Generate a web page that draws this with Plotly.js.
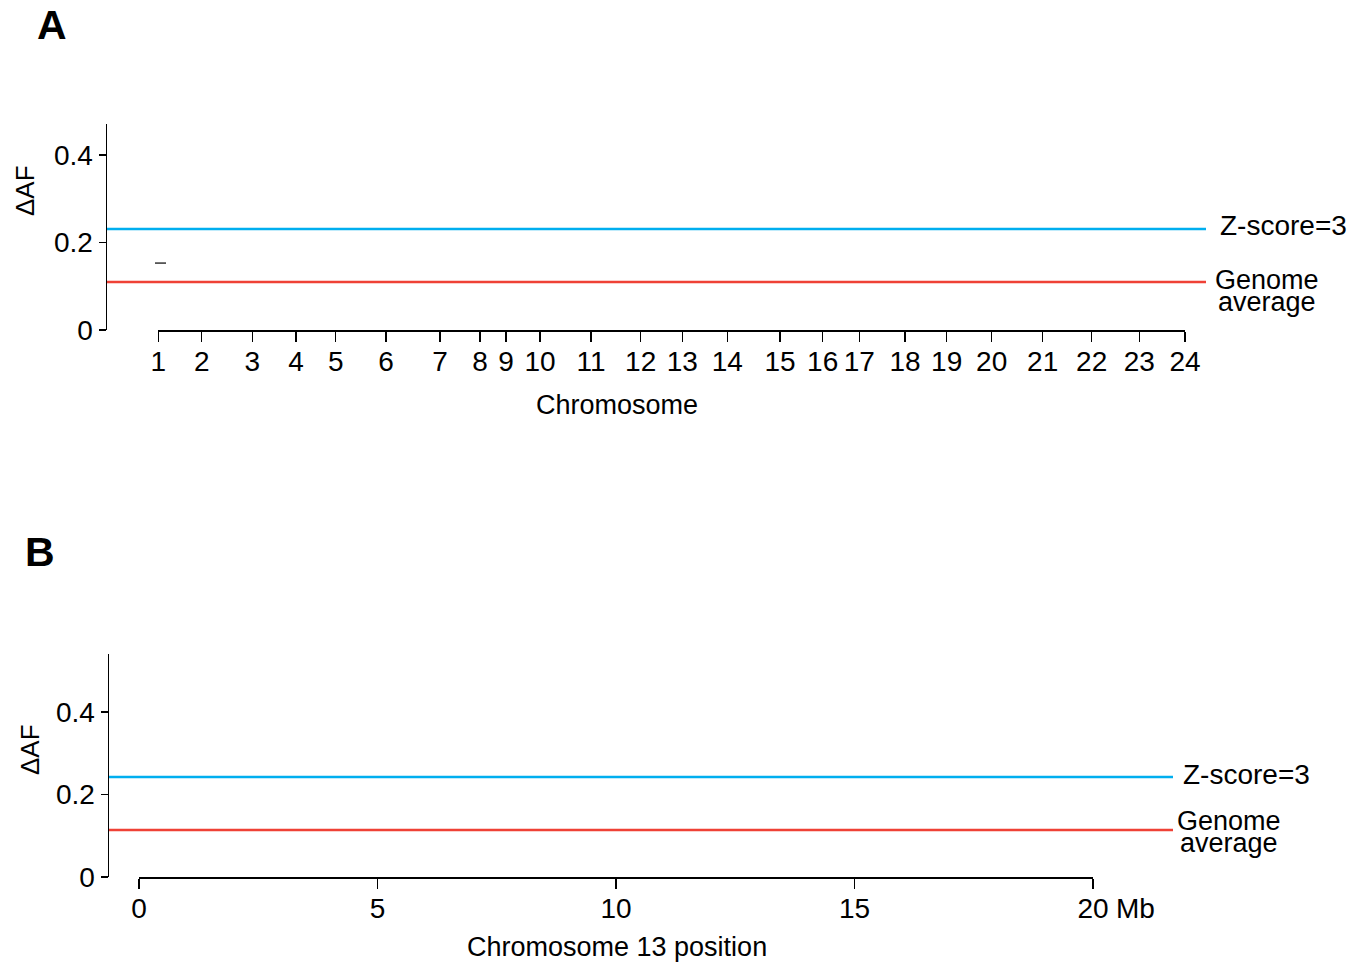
<!DOCTYPE html>
<html>
<head>
<meta charset="utf-8">
<script src="https://cdn.plot.ly/plotly-3.0.1.min.js"></script>
<style>html,body{margin:0;padding:0;background:#fff;}#chart{width:1362px;height:962px;}</style>
</head>
<body>
<div id="chart"></div>
<script>
// ---- Data ----
var chromLabels = ['1','2','3','4','5','6','7','8','9','10','11','12','13','14','15','16','17','18','19','20','21','22','23','24'];
var chromStart = [0, 43.4, 94, 137.7, 177.4, 227.7, 281.7, 321.7, 347.7, 381.7, 432.7, 482.4, 524, 569, 621.7, 664.4, 701, 746.7, 788.4, 833.4, 884.4, 933.4, 981, 1026.7];
var genomeAvgA = 0.11;
var zScore3A = 0.231;
var windowX_A = [-3.3, 7.7];
var windowY_A = [0.153, 0.153];

var posTicksB = [0, 5, 10, 15, 20];
var posLabelsB = ['0', '5', '10', '15', '20'];
var genomeAvgB = 0.114;
var zScore3B = 0.242;

// ---- Layout helpers ----
var W = 1362, H = 962;
function px(x){ return x / W; }
function py(y){ return 1 - y / H; }
var FONT = 'Liberation Sans, Arial, Helvetica, sans-serif';
var BLUE = '#00AEEF', RED = '#EF4136';

var xRangeA = [-51.3, 1047.7];
var xRangeB = [-0.629, 21.68];

var traces = [
  {x: xRangeA, y: [zScore3A, zScore3A], xaxis:'x', yaxis:'y', mode:'lines', line:{color:BLUE, width:2.5}, hoverinfo:'skip'},
  {x: xRangeA, y: [genomeAvgA, genomeAvgA], xaxis:'x', yaxis:'y', mode:'lines', line:{color:RED, width:2.5}, hoverinfo:'skip'},
  {x: windowX_A, y: windowY_A, xaxis:'x', yaxis:'y', mode:'lines', line:{color:'#333', width:1.5}, hoverinfo:'skip'},
  {x: [], y: [], xaxis:'x3', yaxis:'y', mode:'lines', hoverinfo:'skip'},
  {x: xRangeB, y: [zScore3B, zScore3B], xaxis:'x2', yaxis:'y2', mode:'lines', line:{color:BLUE, width:2.5}, hoverinfo:'skip'},
  {x: xRangeB, y: [genomeAvgB, genomeAvgB], xaxis:'x2', yaxis:'y2', mode:'lines', line:{color:RED, width:2.5}, hoverinfo:'skip'},
  {x: [], y: [], xaxis:'x4', yaxis:'y2', mode:'lines', hoverinfo:'skip'}
];

var yAxisCommon = {
  showline:true, linecolor:'#000', linewidth:1.5, ticks:'outside', ticklen:7, tickwidth:1.5, tickcolor:'#000',
  tickvals:[0,0.2,0.4], ticktext:['0','0.2','0.4'], tickfont:{family:FONT, size:28, color:'#000'},
  showgrid:false, zeroline:false, fixedrange:true, ticklabelstandoff:0
};
var xTickAxisCommon = {
  showline:true, linecolor:'#000', linewidth:1.5, ticks:'outside', ticklen:10, tickwidth:1.5, tickcolor:'#000',
  tickfont:{family:FONT, size:28, color:'#000'}, showgrid:false, zeroline:false, fixedrange:true, anchor:'free',
  ticklabelstandoff:-4
};

var layout = {
  width: W, height: H,
  margin:{l:0, r:0, t:0, b:0},
  paper_bgcolor:'#fff', plot_bgcolor:'rgba(0,0,0,0)',
  showlegend:false,
  font:{family:FONT, color:'#000'},
  xaxis: {domain:[px(107), px(1206)], range:xRangeA, visible:false, anchor:'y', fixedrange:true},
  yaxis: Object.assign({}, yAxisCommon, {domain:[py(330), py(124)], range:[0, 0.471], anchor:'x'}),
  xaxis3: Object.assign({}, xTickAxisCommon, {domain:[px(158.3), px(1185)], range:[chromStart[0], chromStart[chromStart.length-1]],
    position: py(330), tickvals: chromStart, ticktext: chromLabels}),
  xaxis2: {domain:[px(109), px(1173)], range:xRangeB, visible:false, anchor:'y2', fixedrange:true},
  yaxis2: Object.assign({}, yAxisCommon, {domain:[py(877), py(654)], range:[0, 0.54], anchor:'x2'}),
  xaxis4: Object.assign({}, xTickAxisCommon, {domain:[px(139), px(1093)], range:[posTicksB[0], posTicksB[posTicksB.length-1]],
    position: py(877), tickvals: posTicksB, ticktext: posLabelsB}),
  annotations: [
    {text:'<b>A</b>', x:px(52), y:py(25), xref:'paper', yref:'paper', showarrow:false, xanchor:'center', yanchor:'middle', font:{size:41, family:FONT}},
    {text:'<b>B</b>', x:px(40), y:py(552), xref:'paper', yref:'paper', showarrow:false, xanchor:'center', yanchor:'middle', font:{size:41, family:FONT}},
    {text:'ΔAF', x:px(25), y:py(191), xref:'paper', yref:'paper', showarrow:false, textangle:-90, xanchor:'center', yanchor:'middle', font:{size:26, family:FONT}},
    {text:'ΔAF', x:px(30), y:py(750), xref:'paper', yref:'paper', showarrow:false, textangle:-90, xanchor:'center', yanchor:'middle', font:{size:26, family:FONT}},
    {text:'Chromosome', x:px(617), y:py(405), xref:'paper', yref:'paper', showarrow:false, xanchor:'center', yanchor:'middle', font:{size:27, family:FONT}},
    {text:'Chromosome 13 position', x:px(617), y:py(947), xref:'paper', yref:'paper', showarrow:false, xanchor:'center', yanchor:'middle', font:{size:27, family:FONT}},
    {text:'Mb', x:px(1114), y:py(908), xref:'paper', yref:'paper', showarrow:false, xanchor:'left', yanchor:'middle', font:{size:28, family:FONT}},
    {text:'Z-score=3', x:px(1218), y:py(226), xref:'paper', yref:'paper', showarrow:false, xanchor:'left', yanchor:'middle', font:{size:28, family:FONT}},
    {text:'Genome', x:px(1267), y:py(280), xref:'paper', yref:'paper', showarrow:false, xanchor:'center', yanchor:'middle', font:{size:27, family:FONT}},
    {text:'average', x:px(1267), y:py(302), xref:'paper', yref:'paper', showarrow:false, xanchor:'center', yanchor:'middle', font:{size:27, family:FONT}},
    {text:'Z-score=3', x:px(1181), y:py(774), xref:'paper', yref:'paper', showarrow:false, xanchor:'left', yanchor:'middle', font:{size:28, family:FONT}},
    {text:'Genome', x:px(1229), y:py(821), xref:'paper', yref:'paper', showarrow:false, xanchor:'center', yanchor:'middle', font:{size:27, family:FONT}},
    {text:'average', x:px(1229), y:py(843), xref:'paper', yref:'paper', showarrow:false, xanchor:'center', yanchor:'middle', font:{size:27, family:FONT}}
  ]
};

Plotly.newPlot('chart', traces, layout, {staticPlot:true, displayModeBar:false});
</script>
</body>
</html>
